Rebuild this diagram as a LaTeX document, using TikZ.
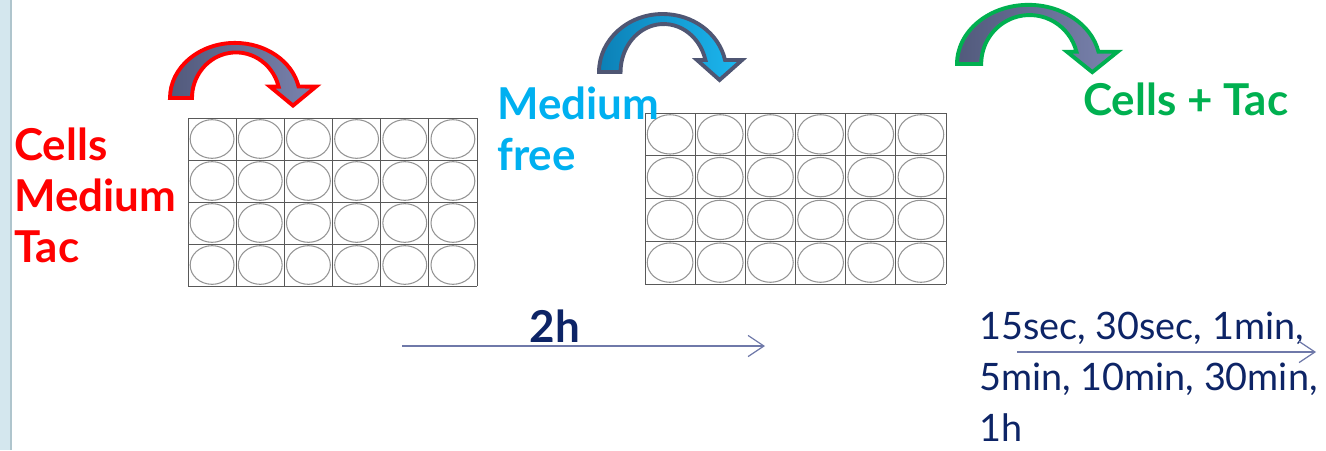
\documentclass[tikz,border=0pt]{standalone}
\usepackage{fontspec}
\setmainfont{Lato}
\usetikzlibrary{arrows.meta}
\definecolor{cellred}{HTML}{FF0000}
\definecolor{freeblue}{HTML}{00B0F0}
\definecolor{tacgreen}{HTML}{00B050}
\definecolor{timenavy}{HTML}{0D2466}
\definecolor{slatedark}{HTML}{525A7C}
\definecolor{slatelight}{HTML}{7A83AE}
\definecolor{rimslate}{HTML}{4F5673}
\definecolor{cyandark}{HTML}{0C80B6}
\definecolor{cyanlight}{HTML}{1CB8F0}
\definecolor{lineslate}{HTML}{6F79A9}
\definecolor{stripblue}{HTML}{D4E7EE}
\definecolor{stripline}{HTML}{AFC5CD}
% 24 well plate, corners in px
\newcommand\wellplate[4]{%
  \pgfmathsetmacro\cw{(#3-#1)/6}%
  \pgfmathsetmacro\ch{(#4-#2)/4}%
  \foreach \i in {0,...,5}{%
    \foreach \j in {0,...,3}{%
      \draw[well] ({#1+(\i+0.5)*\cw},{#2+(\j+0.5)*\ch}) ellipse [x radius=0.455*\cw, y radius=0.46*\ch];
    }}%
  \foreach \i in {0,...,6}
    \draw[rack] ({#1+\i*\cw},#2) -- ({#1+\i*\cw},#4);
  \foreach \j in {0,...,4}
    \draw[rack] (#1,{#2+\j*\ch}) -- (#3,{#2+\j*\ch});
}
% curved arrow: foot x, foot y, xscale, yscale, rim, fill left, fill right
\newcommand\bentarrow[7]{%
  \draw[shift={(#1,#2)}, xscale=#3, yscale=#4, draw=#5, line width=2.2pt,
        line join=miter, left color=#6, right color=#7]
    (0,0) arc[start angle=180, end angle=348, x radius=65, y radius=58]
    -- (146,-12) -- (123,8) -- (100,-12) -- (108.6,-12)
    arc[start angle=345.5, end angle=180, x radius=44, y radius=48] -- cycle;
}

\begin{document}
\begin{tikzpicture}[x=0.02cm,y=-0.02cm,
  every node/.style={inner sep=0pt, align=left},
  bigtext/.style={font=\fontsize{25}{29}\selectfont\bfseries},
  timetext/.style={font=\fontsize{21.5}{29}\selectfont, text=timenavy},
  timeline/.style={draw=lineslate, line width=0.7pt, -{Straight Barb[length=9pt,width=12pt]}},
  well/.style={draw=black!42, line width=0.6pt},
  rack/.style={draw=black!65, line width=0.5pt}]
	\useasboundingbox (0,0) rectangle (1326,450);

	%% slide border
	\fill[stripblue] (0,0) rectangle (12,450);
	\draw[stripline, line width=1.2pt] (11,0) -- (11,450);

	\wellplate{188}{118}{477}{286}
	\wellplate{645}{113}{946}{284}

	\bentarrow{170}{98}{1}{0.95}{cellred}{slatedark}{slatelight}
	\bentarrow{599}{72}{0.98}{1.0}{rimslate}{cyandark}{cyanlight}
	\bentarrow{957}{64}{1.1}{1.02}{tacgreen}{slatedark}{slatelight}

	\node[bigtext, text=cellred, anchor=north west] (cellmix) at (14,128) {Cells\\Medium\\Tac};
	\node[bigtext, text=freeblue, anchor=north west] (freemedium) at (497,87) {Medium\\free};
	\node[bigtext, text=tacgreen, anchor=north west] (celltac) at (1083,83) {Cells + Tac};

	\node[bigtext, text=timenavy, anchor=base] (twohours) at (555,342) {2h};
	\node[timetext, anchor=north west] (timepoints) at (979,312) {15sec, 30sec, 1min,\\5min, 10min, 30min,\\1h};

	\coordinate (incubstart) at (402,346);
	\coordinate (incubend) at (765,346);
	\draw[timeline] (incubstart) -- (incubend);
	\coordinate (washstart) at (1017,352);
	\coordinate (washend) at (1316,352);
	\draw[timeline] (washstart) -- (washend);
\end{tikzpicture}
\end{document}
